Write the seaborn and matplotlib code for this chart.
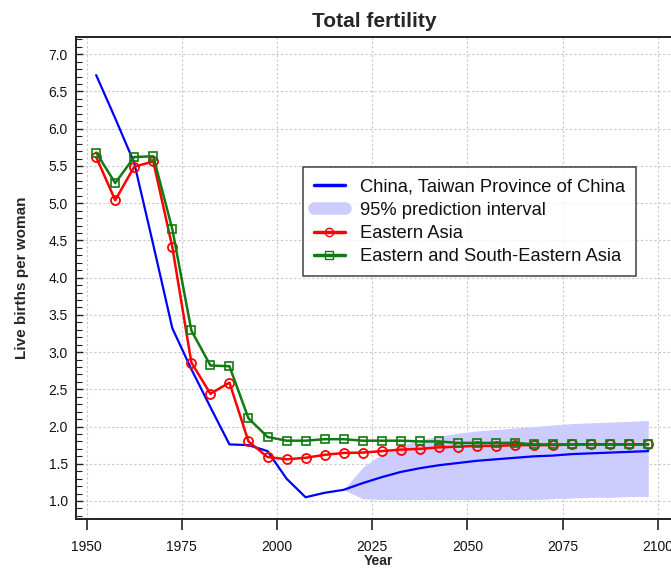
import numpy as np
import pandas as pd
import matplotlib
matplotlib.use('Agg')
import matplotlib.pyplot as plt
from matplotlib.lines import Line2D
from matplotlib.ticker import NullLocator
import seaborn as sns

# 5-year period midpoints
years = [1952.5 + 5 * i for i in range(30)]

# China, Taiwan Province of China (estimates + median projection)
taiwan = [6.72, 6.14, 5.54, 4.44, 3.32, 2.77, 2.26, 1.76, 1.75, 1.67,
          1.30, 1.05, 1.11, 1.15, 1.24, 1.32, 1.39, 1.44, 1.48, 1.51,
          1.54, 1.56, 1.58, 1.60, 1.61, 1.63, 1.64, 1.65, 1.66, 1.67]

# 95% prediction interval (projection period only)
pi_years = years[13:]
pi_lower = [1.15, 1.03, 1.02, 1.02, 1.02, 1.02, 1.02, 1.02, 1.02, 1.02,
            1.02, 1.03, 1.04, 1.05, 1.05, 1.06, 1.06]
pi_upper = [1.15, 1.45, 1.63, 1.74, 1.82, 1.87, 1.91, 1.94, 1.96, 1.98,
            2.00, 2.02, 2.04, 2.05, 2.06, 2.07, 2.08]

eastern_asia = [5.62, 5.04, 5.49, 5.56, 4.41, 2.86, 2.44, 2.59, 1.80, 1.59,
                1.56, 1.58, 1.62, 1.645, 1.65, 1.67, 1.69, 1.70, 1.72, 1.73,
                1.74, 1.74, 1.75, 1.75, 1.75, 1.76, 1.76, 1.76, 1.76, 1.76]

east_se_asia = [5.68, 5.27, 5.62, 5.63, 4.65, 3.29, 2.82, 2.81, 2.11, 1.86,
                1.81, 1.81, 1.83, 1.83, 1.81, 1.81, 1.81, 1.80, 1.80, 1.78,
                1.78, 1.78, 1.78, 1.76, 1.76, 1.76, 1.76, 1.76, 1.76, 1.76]

labels = ['China, Taiwan Province of China', '95% prediction interval',
          'Eastern Asia', 'Eastern and South-Eastern Asia']

sns.set_style('white')
plt.rcParams['font.family'] = ['Liberation Sans', 'DejaVu Sans']

fig = plt.figure(figsize=(6.71, 5.69), dpi=100)
ax = fig.add_axes([76 / 671, 50 / 569, 605 / 671, 482 / 569])

band_color = '#ccccff'
green = '#127a12'
ax.fill_between(pi_years, pi_lower, pi_upper, color=band_color, lw=0, zorder=1)

sns.lineplot(x=years, y=taiwan, ax=ax, color='#0000ff', lw=1.6, zorder=3)
sns.lineplot(x=years, y=eastern_asia, ax=ax, color='#ff0000', lw=1.8,
             marker='o', markersize=6.5, markerfacecolor='none',
             markeredgecolor='#ff0000', markeredgewidth=1.3, zorder=4)
sns.lineplot(x=years, y=east_se_asia, ax=ax, color=green, lw=1.8,
             marker='s', markersize=6, markerfacecolor='none',
             markeredgecolor=green, markeredgewidth=1.2, zorder=5)

ax.set_xlim(1947.2, 2106.1)
ax.set_ylim(0.758, 7.232)
ax.set_xticks([1950, 1975, 2000, 2025, 2050, 2075, 2100])
ax.xaxis.set_minor_locator(NullLocator())
ax.set_yticks(np.arange(1.0, 7.01, 0.5))
ax.set_yticklabels(['%.1f' % v for v in np.arange(1.0, 7.01, 0.5)])
ax.set_yticks(np.arange(0.8, 7.25, 0.1), minor=True)

ax.grid(True, which='major', color='#c8c8c8', linestyle=(0, (2, 2)), lw=0.8)
ax.set_axisbelow(True)

ax.tick_params(axis='x', which='major', direction='out', length=8, width=1.2,
               color='#222222', labelsize=10, labelcolor='#111111', pad=7,
               bottom=True, top=False)
ax.tick_params(axis='y', which='major', direction='in', length=5, width=1,
               color='#222222', labelsize=10, labelcolor='#111111', pad=6,
               left=True, right=False)
ax.tick_params(axis='y', which='minor', direction='in', length=4, width=0.8,
               color='#222222', left=True, right=False)

for side in ['left', 'bottom', 'top']:
    ax.spines[side].set_color('#222222')
    ax.spines[side].set_linewidth(1.4)
ax.spines['right'].set_visible(False)

ax.set_title('Total fertility', fontsize=15, fontweight='bold', pad=7,
             x=(374 - 76) / 605)
ax.set_xlabel('Year', fontsize=10, fontweight='bold', labelpad=0)
ax.set_ylabel('Live births per woman', fontsize=11, fontweight='bold', labelpad=14)

handles = [
    Line2D([], [], color='#0000ff', lw=2.5),
    Line2D([], [], color=band_color, lw=9, solid_capstyle='round'),
    Line2D([], [], color='#ff0000', lw=2.5, marker='o', markersize=6,
           markerfacecolor='none', markeredgecolor='#ff0000'),
    Line2D([], [], color=green, lw=2.5, marker='s', markersize=6,
           markerfacecolor='none', markeredgecolor=green),
]
leg = ax.legend(handles, labels, loc='upper left', bbox_to_anchor=(0.375, 0.730),
                borderaxespad=0, fontsize=13.2, frameon=True, fancybox=False,
                handlelength=1.7, handletextpad=0.8, labelspacing=0.35,
                borderpad=0.6, numpoints=1)
leg.get_frame().set_edgecolor('#222222')
leg.get_frame().set_linewidth(1.2)
for t in leg.get_texts():
    t.set_color('#111111')

fig.savefig('out.png', dpi=100)
